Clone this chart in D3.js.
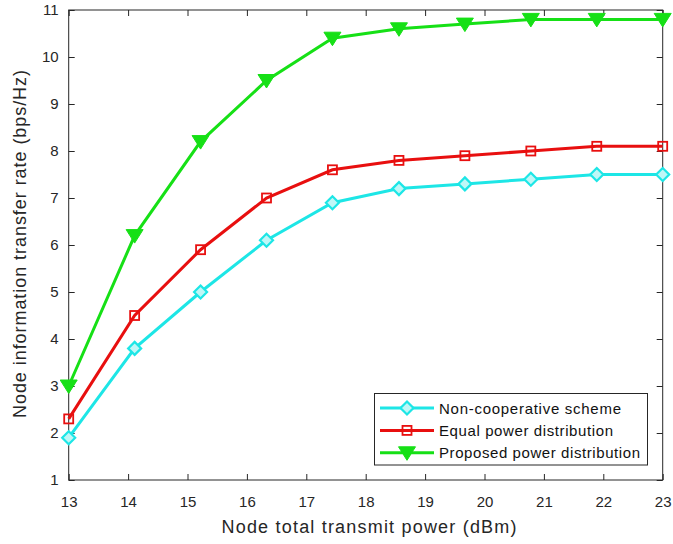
<!DOCTYPE html>
<html><head><meta charset="utf-8">
<script src="https://cdn.jsdelivr.net/npm/d3@7"></script>
<style>body{margin:0;background:#fff}svg{display:block}text{font-family:"Liberation Sans",Arial,sans-serif}</style>
</head><body><svg id="c" width="673" height="544"></svg>
<script>
const xValues = [13, 14.11, 15.22, 16.33, 17.44, 18.56, 19.67, 20.78, 21.89, 23];
const nonCoop = [1.9, 3.8, 5.0, 6.1, 6.9, 7.2, 7.3, 7.4, 7.5, 7.5];
const equalPower = [2.3, 4.5, 5.9, 7.0, 7.6, 7.8, 7.9, 8.0, 8.1, 8.1];
const proposed = [3.0, 6.2, 8.2, 9.5, 10.4, 10.6, 10.7, 10.8, 10.8, 10.8];
const xTicks = [13,14,15,16,17,18,19,20,21,22,23];
const yTicks = [1,2,3,4,5,6,7,8,9,10,11];
const seriesNames = ["Non-cooperative scheme","Equal power distribution","Proposed power distribution"];

const svg = d3.select("#c");
const L=68.7,R=662.7,T=10,B=480;
const x = d3.scaleLinear().domain([13,23]).range([L,R]);
const y = d3.scaleLinear().domain([1,11]).range([B,T]);
const axisCol="#262626";

const series = [
 {name:seriesNames[0], vals:nonCoop, color:"#1de6e6", marker:"diamond", w:182},
 {name:seriesNames[1], vals:equalPower, color:"#e80f0f", marker:"square", w:174},
 {name:seriesNames[2], vals:proposed, color:"#16e016", marker:"tri", w:201}
];

function drawMarker(g, type, cx, cy, color){
  if(type==="diamond"){
    g.append("path").attr("d",`M${cx},${cy-6.5}L${cx+6.5},${cy}L${cx},${cy+6.5}L${cx-6.5},${cy}Z`)
     .attr("fill","#bff7f7").attr("stroke",color).attr("stroke-width",2.2);
  } else if(type==="square"){
    g.append("rect").attr("x",cx-4.5).attr("y",cy-4.5).attr("width",9).attr("height",9)
     .attr("fill","none").attr("stroke",color).attr("stroke-width",1.8);
  } else {
    g.append("path").attr("d",`M${cx-8.5},${cy-6}L${cx+8.5},${cy-6}L${cx},${cy+7.5}Z`)
     .attr("fill",color).attr("stroke",color).attr("stroke-width",1);
  }
}

svg.append("rect").attr("x",L).attr("y",T).attr("width",R-L).attr("height",B-T)
  .attr("fill","none").attr("stroke",axisCol).attr("stroke-width",1);

const gx = svg.append("g").attr("transform",`translate(0,${B})`)
  .call(d3.axisBottom(x).tickValues(xTicks).tickSize(-6).tickPadding(16).tickFormat(d3.format("d")));
const gxt = svg.append("g").attr("transform",`translate(0,${T})`)
  .call(d3.axisTop(x).tickValues(xTicks).tickSize(-6).tickFormat(""));
const gy = svg.append("g").attr("transform",`translate(${L},0)`)
  .call(d3.axisLeft(y).tickValues(yTicks).tickSize(-6).tickPadding(10).tickFormat(d3.format("d")));
const gyr = svg.append("g").attr("transform",`translate(${R},0)`)
  .call(d3.axisRight(y).tickValues(yTicks).tickSize(-6).tickFormat(""));
[gx,gxt,gy,gyr].forEach(g=>{
  g.select(".domain").remove();
  g.selectAll(".tick line").attr("stroke",axisCol);
  g.selectAll("text").attr("fill",axisCol).style("font-size","15px");
});

series.forEach(s=>{
  const pts = s.vals.map((v,i)=>[x(xValues[i]),y(v)]);
  svg.append("path").attr("d",d3.line()(pts)).attr("fill","none")
    .attr("stroke",s.color).attr("stroke-width",3);
  const g = svg.append("g");
  pts.forEach(p=>drawMarker(g,s.marker,p[0],p[1],s.color));
});

svg.append("text").attr("x",369).attr("y",533).attr("text-anchor","middle")
  .attr("fill",axisCol).style("font-size","18px")
  .attr("textLength",295).attr("lengthAdjust","spacing").text("Node total transmit power (dBm)");
svg.append("text").attr("transform",`translate(26,244) rotate(-90)`).attr("text-anchor","middle")
  .attr("fill",axisCol).style("font-size","18px")
  .attr("textLength",348).attr("lengthAdjust","spacing").text("Node information transfer rate (bps/Hz)");

const lg = svg.append("g");
lg.append("rect").attr("x",374.5).attr("y",393.5).attr("width",273).attr("height",71.5)
  .attr("fill","#fff").attr("stroke",axisCol).attr("stroke-width",1);
series.forEach((s,i)=>{
  const cy = 408 + i*22.4;
  lg.append("line").attr("x1",380).attr("x2",434).attr("y1",cy).attr("y2",cy)
    .attr("stroke",s.color).attr("stroke-width",3);
  drawMarker(lg,s.marker,407,cy,s.color);
  lg.append("text").attr("x",439).attr("y",cy+5.5).attr("fill","#111").style("font-size","15px")
    .attr("textLength",s.w).attr("lengthAdjust","spacing").text(s.name);
});
</script></body></html>
